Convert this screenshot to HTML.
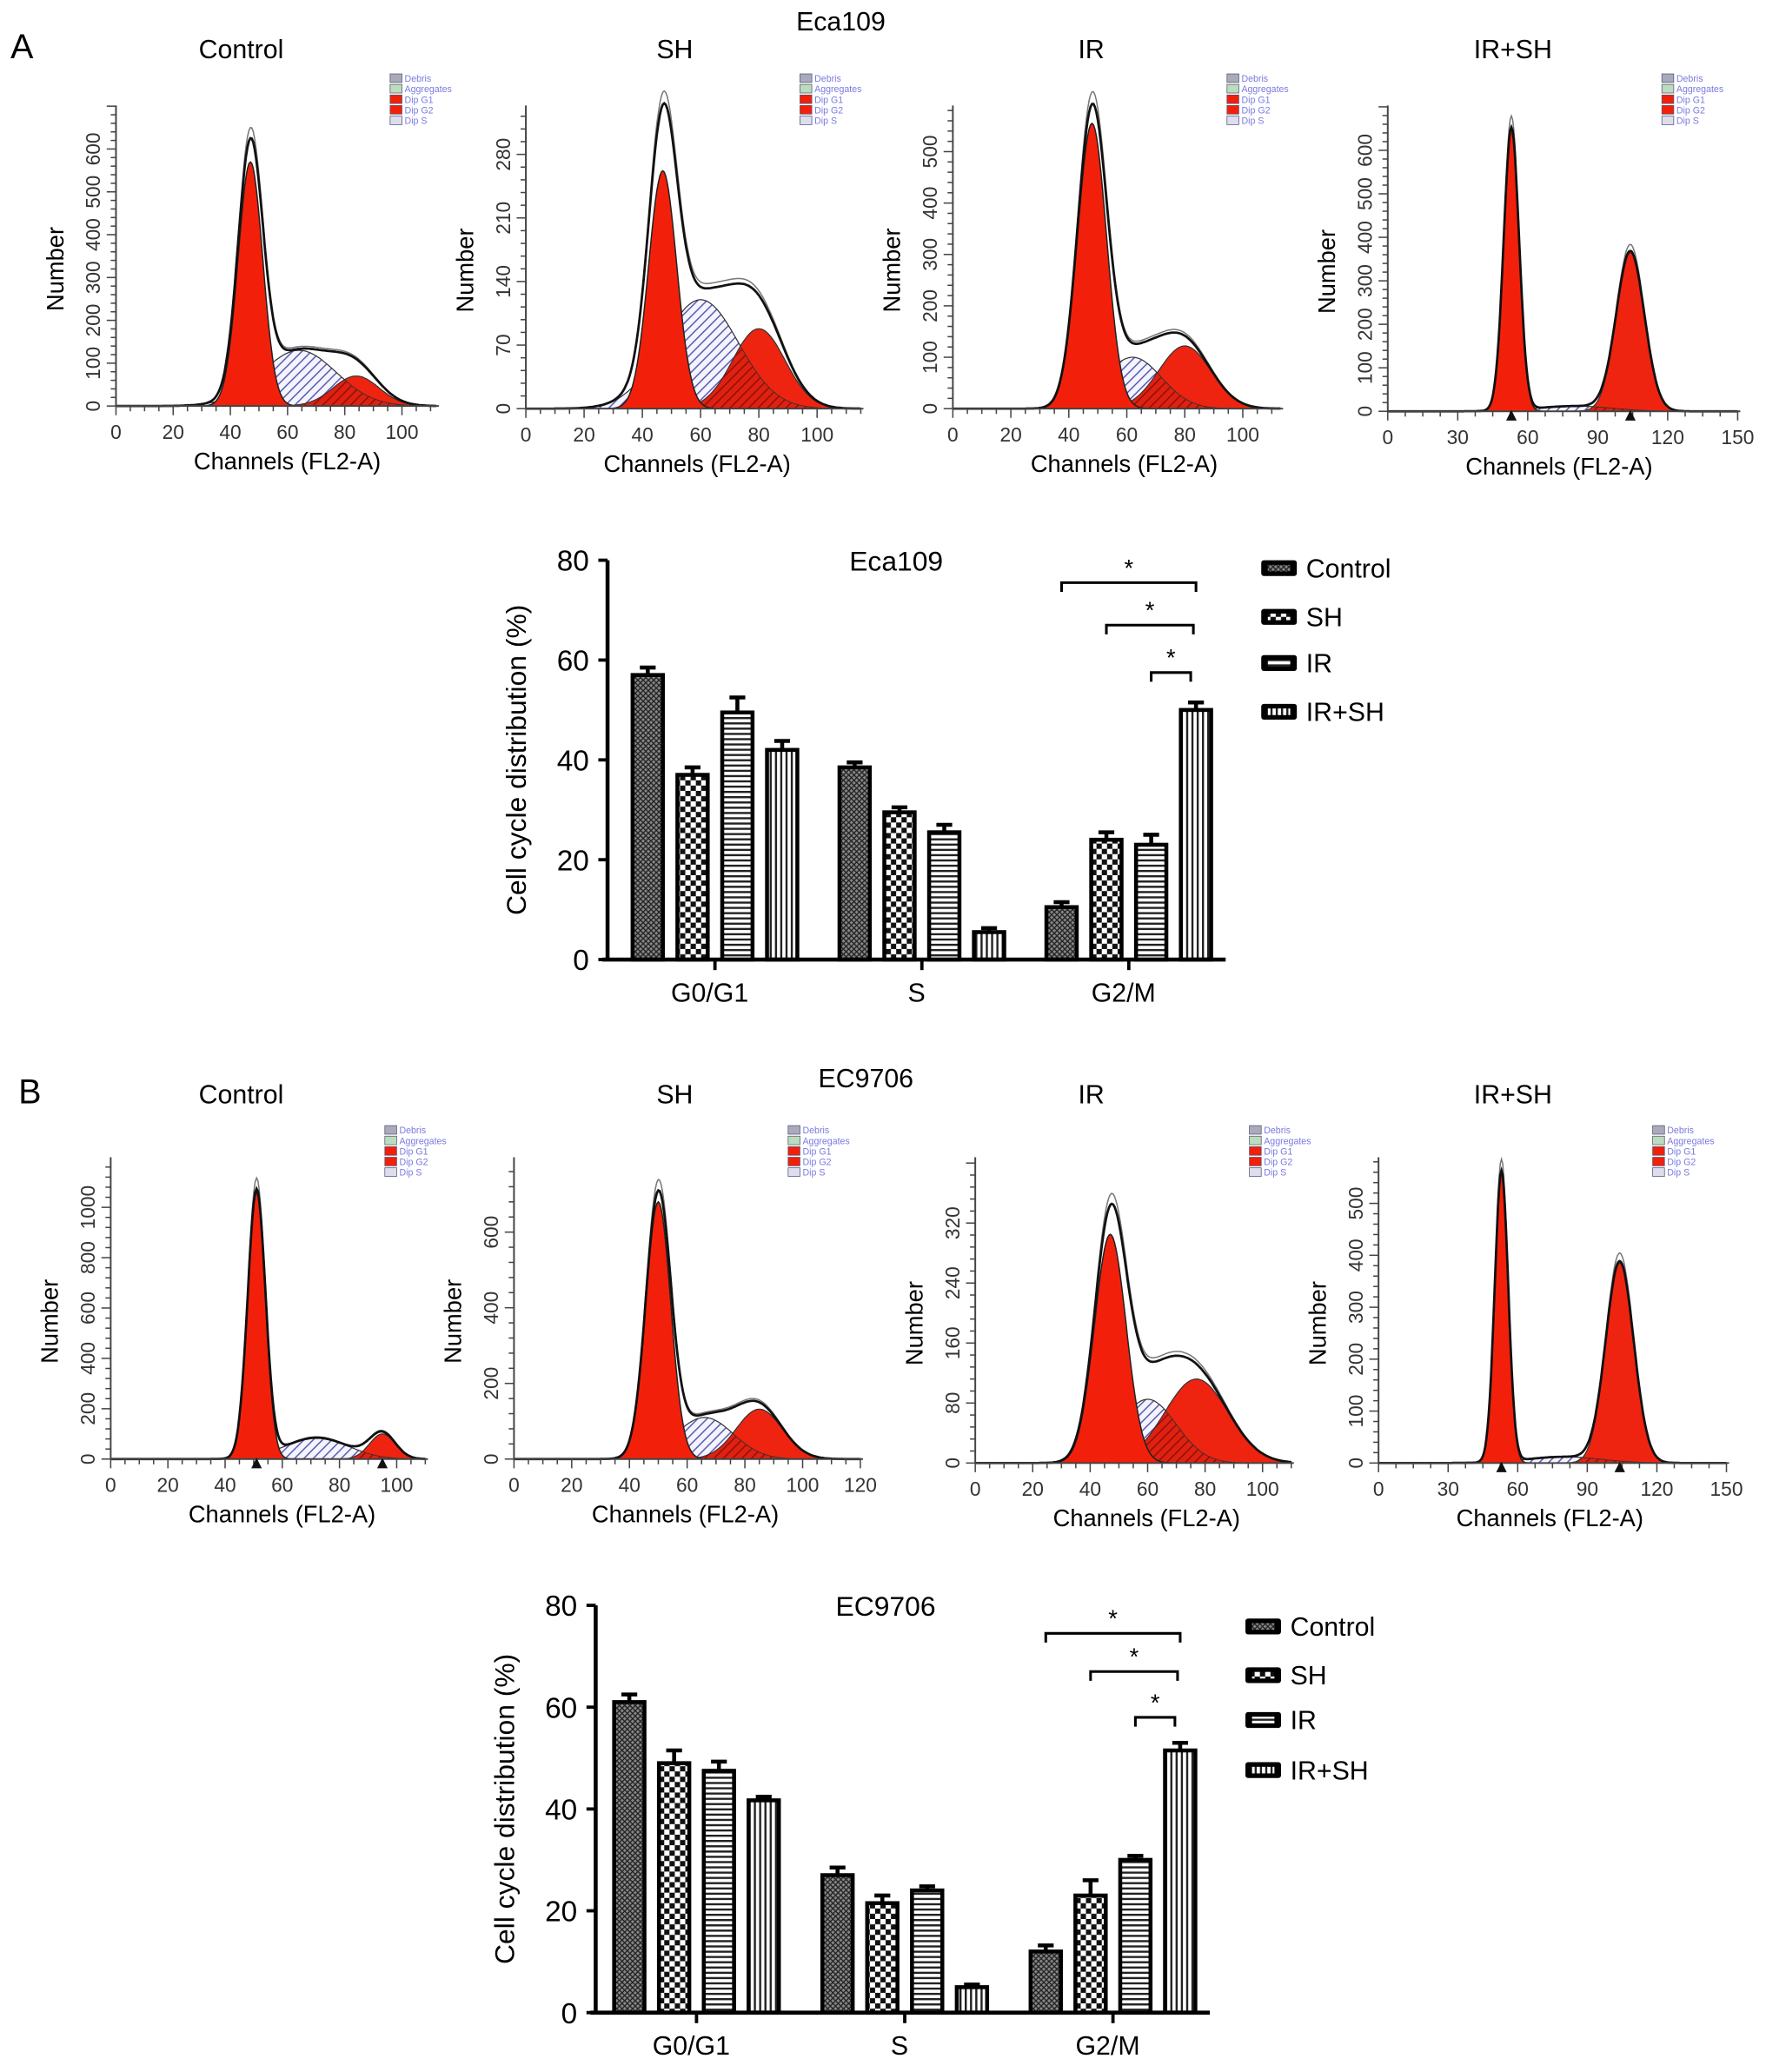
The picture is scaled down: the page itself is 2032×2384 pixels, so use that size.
<!DOCTYPE html>
<html><head><meta charset="utf-8"><style>
html,body{margin:0;padding:0;background:#fff}
svg{display:block}
text{font-family:"Liberation Sans",Arial,sans-serif}
</style></head><body>
<svg id="fig" width="2032" height="2384" viewBox="0 0 1340 1572" xmlns="http://www.w3.org/2000/svg">
<defs>
<pattern id="pCtrl" width="4" height="4" patternUnits="userSpaceOnUse"><rect width="4" height="4" fill="#888"/><path d="M0 0L4 4M4 0L0 4" stroke="#222" stroke-width="0.9"/></pattern>
<pattern id="pSH" width="8" height="8" patternUnits="userSpaceOnUse"><rect width="8" height="8" fill="#fff"/><rect width="4" height="4" fill="#111"/><rect x="4" y="4" width="4" height="4" fill="#111"/></pattern>
<pattern id="pIR" width="4" height="4" patternUnits="userSpaceOnUse"><rect width="4" height="4" fill="#fff"/><rect width="4" height="1.6" fill="#222"/></pattern>
<pattern id="pIRSH" width="4" height="4" patternUnits="userSpaceOnUse"><rect width="4" height="4" fill="#fff"/><rect width="1.6" height="4" fill="#222"/></pattern>
<pattern id="pS" width="5" height="5" patternUnits="userSpaceOnUse" patternTransform="rotate(45)"><rect width="5" height="5" fill="#f4f4ff"/><rect width="1" height="5" fill="#5a5ab0"/></pattern>
<pattern id="pOv" width="5" height="5" patternUnits="userSpaceOnUse" patternTransform="rotate(45)"><rect width="5" height="5" fill="#e02010"/><rect width="1" height="5" fill="#8a1208"/></pattern>
</defs>
<g id="root"></g>
</svg>
<script>
// ---- Histogram data (component parameters: mean, height, sd) ----
const histTitles = ["Control","SH","IR","IR+SH","Control","SH","IR","IR+SH"];
const g1Mean = [47,47,48,53,51,50,47,53];
const g1Height = [570,262,555,650,1060,680,305,560];
const g1Sd = [4.3,4.8,5,3.3,3.1,4.3,5.5,2.9];
const sMean = [64,60,62,80,72,66,60,80];
const sHeight = [130,120,100,12,85,110,85,12];
const sSd = [13,13,10,16,11,10,10,16];
const g2Mean = [84,80,80,104,95,85,77,104];
const g2Height = [70,88,122,365,100,132,112,385];
const g2Sd = [8,9,9,6,4.5,8,11,6];
const yTickMax = [600,280,500,600,1000,600,320,500];
const yTickStep = [100,70,100,100,200,200,80,100];
const xTickMax = [100,100,100,150,100,120,100,150];
const xTickStep = [20,20,20,30,20,20,20,30];

// ---- Bar chart data ----
const phases = ["G0/G1","S","G2/M"];
const groups = ["Control","SH","IR","IR+SH"];
const barsA = [[57,37,49.5,42],[38.5,29.5,25.5,5.5],[10.5,24,23,50]];
const errA = [[1.5,1.5,3,1.8],[1,1,1.5,0.8],[1,1.5,2,1.5]];
const barsB = [[61,49,47.5,41.7],[27,21.5,24,5],[12,23,30,51.5]];
const errB = [[1.5,2.5,1.8,0.7],[1.5,1.5,0.8,0.5],[1.2,3,0.8,1.5]];
const yTicksBar = [0,20,40,60,80];

const NS="http://www.w3.org/2000/svg";
const root=document.getElementById('root');
function el(tag,attrs,parent,txt){const e=document.createElementNS(NS,tag);for(const k in attrs)e.setAttribute(k,attrs[k]);if(txt!==undefined)e.textContent=txt;(parent||root).appendChild(e);return e;}

const hg=[
 {x0:88,xs:2.17,y0:308,ys:0.325,xe:112,yt:80,tx:183,ty:44},
 {x0:399,xs:2.21,y0:310,ys:0.689,xe:115,yt:80,tx:512,ty:44},
 {x0:723,xs:2.2,y0:310,ys:0.39,xe:113,yt:80,tx:828,ty:44},
 {x0:1053,xs:1.77,y0:312,ys:0.33,xe:150,yt:80,tx:1148,ty:44},
 {x0:84,xs:2.17,y0:1107,ys:0.191,xe:110,yt:878,tx:183,ty:837},
 {x0:390,xs:2.19,y0:1107,ys:0.287,xe:120,yt:878,tx:512,ty:837},
 {x0:740,xs:2.18,y0:1110,ys:0.569,xe:110,yt:878,tx:828,ty:837},
 {x0:1046,xs:1.76,y0:1110,ys:0.394,xe:150,yt:878,tx:1148,ty:837}
];
function gauss(x,m,h,s){return h*Math.exp(-0.5*((x-m)/s)**2);}
function areaPath(i,f){const g=hg[i];let d='';for(let x=0;x<=g.xe;x+=0.5){const px=g.x0+x*g.xs,py=g.y0-f(x)*g.ys;d+=(x===0?'M':'L')+px.toFixed(1)+' '+py.toFixed(1);}return d;}
for(let i=0;i<8;i++){
  const g=hg[i];
  const p=el('g',{});
  
  
  el('text',{x:g.tx,y:g.ty,'font-size':20,'text-anchor':'middle',},p,histTitles[i]);
  const base=g.y0.toFixed(1);
  const G1=x=>gauss(x,g1Mean[i],g1Height[i],g1Sd[i]);
  const S=x=>gauss(x,sMean[i],sHeight[i],sSd[i]);
  const G2=x=>gauss(x,g2Mean[i],g2Height[i],g2Sd[i]);
  const tot=x=>G1(x)+S(x)+G2(x);
  const close=' L'+(g.x0+g.xe*g.xs)+' '+base+' L'+g.x0+' '+base+' Z';
  el('path',{d:areaPath(i,S)+close,fill:'url(#pS)',stroke:'#333','stroke-width':0.8,},p);
  el('path',{d:areaPath(i,x=>Math.min(S(x),G1(x)))+close,fill:'url(#pOv)',stroke:'none',},p);
  el('path',{d:areaPath(i,G2)+close,fill:'#ee2410',stroke:'#333','stroke-width':0.8,},p);
  el('path',{d:areaPath(i,x=>Math.min(S(x),G2(x)))+close,fill:'url(#pOv)',stroke:'#333','stroke-width':0.6,},p);
  el('path',{d:areaPath(i,G1)+close,fill:'#f2200a',stroke:'#222','stroke-width':1,},p);
  el('path',{d:areaPath(i,x=>tot(x)*1.04),fill:'none',stroke:'#777','stroke-width':1,},p);
  el('path',{d:areaPath(i,tot),fill:'none',stroke:'#111','stroke-width':1.8,},p);
  const xEnd=g.x0+g.xe*g.xs;
  el('line',{x1:g.x0,y1:g.y0,x2:xEnd+2,y2:g.y0,stroke:'#444','stroke-width':1.3,},p);
  el('line',{x1:g.x0,y1:g.y0,x2:g.x0,y2:g.yt,stroke:'#444','stroke-width':1.3,},p);
  for(let v=0;v<=g.xe;v+=xTickStep[i]/4){const px=g.x0+v*g.xs;const major=Math.abs(v/xTickStep[i]-Math.round(v/xTickStep[i]))<1e-6;
    el('line',{x1:px,y1:g.y0,x2:px,y2:g.y0+(major?7:4),stroke:'#444','stroke-width':1},p);
    if(major&&v<=xTickMax[i]) el('text',{x:px,y:g.y0+25,'font-size':15,'text-anchor':'middle',fill:'#333',},p,String(v));}
  const ymaxv=(g.y0-g.yt)/g.ys;
  for(let v=0;v<=ymaxv;v+=yTickStep[i]/5){const py=g.y0-v*g.ys;const major=Math.abs(v/yTickStep[i]-Math.round(v/yTickStep[i]))<1e-6;
    el('line',{x1:g.x0,y1:py,x2:g.x0-(major?7:4),y2:py,stroke:'#444','stroke-width':1},p);
    if(major&&v<=yTickMax[i]) el('text',{x:0,y:0,transform:`translate(${g.x0-12},${py}) rotate(-90)`,'font-size':15,'text-anchor':'middle',fill:'#333',},p,String(Math.round(v)));}
  el('text',{x:0,y:0,transform:`translate(${g.x0-40},${(g.y0+g.yt)/2+10}) rotate(-90)`,'font-size':18,'text-anchor':'middle',},p,'Number');
  el('text',{x:g.x0+130,y:g.y0+48,'font-size':18,'text-anchor':'middle',},p,'Channels (FL2-A)');
  const lx=g.x0+208,ly=g.yt-24;
  const lc=['#aab','#bdb','#f2200a','#f2200a','#dde'];const ln=['Debris','Aggregates','Dip G1','Dip G2','Dip S'];
  for(let k=0;k<5;k++){el('rect',{x:lx,y:ly+k*8,width:9,height:6.5,fill:lc[k],stroke:'#557','stroke-width':0.5,},p);
    el('text',{x:lx+11,y:ly+k*8+6,'font-size':7,fill:'#7a7ae0',},p,ln[k]);}
  if(i===3||i===7||i===4){[g1Mean[i],g2Mean[i]].forEach(m=>{const px=g.x0+m*g.xs;el('path',{d:`M${px-4} ${g.y0+7}L${px} ${g.y0-1}L${px+4} ${g.y0+7}Z`,fill:'#111',},p);});}
}
el('text',{x:8,y:44,'font-size':26,},root,'A');
el('text',{x:14,y:837,'font-size':26,},root,'B');
el('text',{x:638,y:23,'font-size':20,'text-anchor':'middle',},root,'Eca109');
el('text',{x:657,y:825,'font-size':20,'text-anchor':'middle',},root,'EC9706');

const pats=['url(#pCtrl)','url(#pSH)','url(#pIR)','url(#pIRSH)'];
function barChart(cfg,vals,errs,title){
  const g=el('g',{});
  
  
  const yS=v=>cfg.y0-v*(cfg.y0-cfg.yTop)/80;
  const xS=(gi,bi)=>cfg.xFirst+gi*cfg.gStep+bi*cfg.bStep;
  yTicksBar.forEach(t=>{el('line',{x1:cfg.ax,y1:yS(t),x2:cfg.ax-7,y2:yS(t),stroke:'#000','stroke-width':2.5},g);
    el('text',{x:cfg.ax-14,y:yS(t)+8,'font-size':22,'text-anchor':'end',},g,String(t));});
  vals.forEach((row,gi)=>{row.forEach((v,bi)=>{const x=xS(gi,bi);
    const top=yS(v+errs[gi][bi]);
    el('line',{x1:x+cfg.bw/2,y1:yS(v),x2:x+cfg.bw/2,y2:top,stroke:'#000','stroke-width':3},g);
    el('line',{x1:x+cfg.bw/2-6,y1:top,x2:x+cfg.bw/2+6,y2:top,stroke:'#000','stroke-width':3},g);
    const r=el('rect',{x:x,y:yS(v),width:cfg.bw,height:cfg.y0-yS(v),fill:pats[bi],stroke:'#000','stroke-width':3},g);
    
    });
    const cx=xS(gi,0)+1.5*cfg.bStep+cfg.bw/2;
    el('line',{x1:cx,y1:cfg.y0,x2:cx,y2:cfg.y0+8,stroke:'#000','stroke-width':2.5},g);
    el('text',{x:cx-4,y:cfg.y0+32,'font-size':20,'text-anchor':'middle',},g,phases[gi]);});
  el('line',{x1:cfg.ax,y1:cfg.yTop,x2:cfg.ax,y2:cfg.y0,stroke:'#000','stroke-width':3,},g);
  el('line',{x1:cfg.ax-4,y1:cfg.y0,x2:cfg.xEnd,y2:cfg.y0,stroke:'#000','stroke-width':3,},g);
  el('text',{x:0,y:0,transform:`translate(${cfg.ax-62},${(cfg.y0+cfg.yTop)/2}) rotate(-90)`,'font-size':21,'text-anchor':'middle',},g,'Cell cycle distribution (%)');
  el('text',{x:cfg.tx,y:cfg.yTop+8,'font-size':21,'text-anchor':'middle',},g,title);
  cfg.br.forEach((b,k)=>{const x1=xS(2,b[0])+cfg.bw/2,x2=xS(2,3)+cfg.bw/2-b[2],y=yS(b[1]);
    el('path',{d:`M${x1} ${y+7}V${y}H${x2}V${y+7}`,fill:'none',stroke:'#000','stroke-width':2,},g);
    el('text',{x:(x1+x2)/2,y:y-5,'font-size':18,'text-anchor':'middle',},g,'*');});
  groups.forEach((n,k)=>{const ly=cfg.legY[k];
    el('rect',{x:cfg.legX,y:ly-6,width:27,height:12,rx:2,fill:'#000',},g);
    el('rect',{x:cfg.legX+5,y:ly-2.5,width:17,height:5,fill:pats[k]},g);
    el('text',{x:cfg.legX+34,y:ly+7,'font-size':20,},g,n);});
}
barChart({ax:461,y0:728,yTop:425,xFirst:480,gStep:157,bStep:34,bw:23,xEnd:930,tx:680,
  br:[[0,75.5,0],[1,67,2],[2,57.5,4]],legX:957,legY:[431,468,503,540]},barsA,errA,'Eca109');
barChart({ax:452,y0:1527,yTop:1218,xFirst:466,gStep:158,bStep:34,bw:23,xEnd:918,tx:672,
  br:[[0,74.5,0],[1,67,2],[2,58,4]],legX:945,legY:[1234,1271,1305,1343]},barsB,errB,'EC9706');
</script>
</body></html>
